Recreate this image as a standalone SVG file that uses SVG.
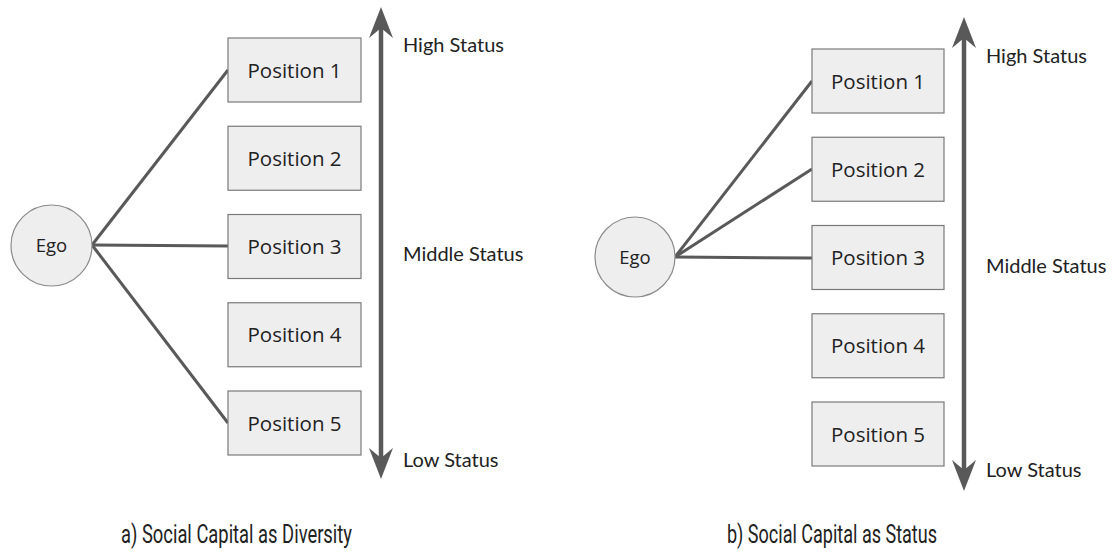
<svg xmlns="http://www.w3.org/2000/svg" width="1117" height="552" viewBox="0 0 1117 552">
<style>
.box{fill:#eeeeee;stroke:#7a7a7a;stroke-width:1.2}
.ego{fill:#eeeeee;stroke:#8a8a8a;stroke-width:1.2}
.lbl{font-family:"Open Sans",sans-serif;font-size:20.5px;fill:#222;text-anchor:middle}
.egot{font-family:"Open Sans",sans-serif;font-size:18.5px;fill:#222;text-anchor:middle}
.st{font-family:Lato,"Open Sans",sans-serif;font-size:20px;fill:#222}
.cap{font-family:Roboto,"Liberation Sans",sans-serif;font-size:26px;fill:#222}
.edge{stroke:#595959;stroke-width:3;fill:none}
.axis{stroke:#595959;stroke-width:4.5;fill:none;marker-start:url(#ah);marker-end:url(#ah)}
</style>
<defs>
<marker id="ah" viewBox="0 0 32 24" refX="18" refY="12" markerWidth="32" markerHeight="24" markerUnits="userSpaceOnUse" orient="auto-start-reverse">
<path d="M0,0 L31,12 L0,24 L10,12 z" fill="#595959"/>
</marker>
</defs>
<rect width="1117" height="552" fill="#ffffff"/>
<g id="connectors">
<line class="edge" x1="92" y1="245" x2="228" y2="70"/>
<line class="edge" x1="92" y1="245" x2="228" y2="246"/>
<line class="edge" x1="92" y1="245" x2="228" y2="423"/>
<line class="edge" x1="675" y1="257" x2="812" y2="81"/>
<line class="edge" x1="675" y1="257" x2="812" y2="169"/>
<line class="edge" x1="675" y1="257" x2="812" y2="258"/>
<line class="axis" x1="381" y1="20" x2="381" y2="466"/>
<line class="axis" x1="964" y1="30" x2="964" y2="478"/>
</g>
<g id="a-ego"><circle class="ego" cx="51.5" cy="245.5" r="40.5"/><text class="egot" x="51.5" y="252">Ego</text></g>
<g id="a-pos1"><rect class="box" x="228" y="38" width="133" height="64"/><text class="lbl" x="294.5" y="77.5">Position 1</text></g>
<g id="a-pos2"><rect class="box" x="228" y="126.25" width="133" height="64"/><text class="lbl" x="294.5" y="165.75">Position 2</text></g>
<g id="a-pos3"><rect class="box" x="228" y="214.5" width="133" height="64"/><text class="lbl" x="294.5" y="254">Position 3</text></g>
<g id="a-pos4"><rect class="box" x="228" y="302.75" width="133" height="64"/><text class="lbl" x="294.5" y="342.25">Position 4</text></g>
<g id="a-pos5"><rect class="box" x="228" y="391" width="133" height="64"/><text class="lbl" x="294.5" y="430.5">Position 5</text></g>
<g id="a-labels">
<text class="st" x="403" y="52">High Status</text>
<text class="st" x="403" y="261">Middle Status</text>
<text class="st" x="403" y="467">Low Status</text>
<text class="cap" x="121" y="543" textLength="231" lengthAdjust="spacingAndGlyphs">a) Social Capital as Diversity</text>
</g>
<g id="b-ego"><circle class="ego" cx="635" cy="257" r="40"/><text class="egot" x="635" y="263.5">Ego</text></g>
<g id="b-pos1"><rect class="box" x="812" y="49" width="132" height="64"/><text class="lbl" x="878" y="88.5">Position 1</text></g>
<g id="b-pos2"><rect class="box" x="812" y="137.25" width="132" height="64"/><text class="lbl" x="878" y="176.75">Position 2</text></g>
<g id="b-pos3"><rect class="box" x="812" y="225.5" width="132" height="64"/><text class="lbl" x="878" y="265">Position 3</text></g>
<g id="b-pos4"><rect class="box" x="812" y="313.75" width="132" height="64"/><text class="lbl" x="878" y="353.25">Position 4</text></g>
<g id="b-pos5"><rect class="box" x="812" y="402" width="132" height="64"/><text class="lbl" x="878" y="441.5">Position 5</text></g>
<g id="b-labels">
<text class="st" x="986" y="63">High Status</text>
<text class="st" x="986" y="273">Middle Status</text>
<text class="st" x="986" y="477">Low Status</text>
<text class="cap" x="727" y="543" textLength="210" lengthAdjust="spacingAndGlyphs">b) Social Capital as Status</text>
</g>
</svg>
